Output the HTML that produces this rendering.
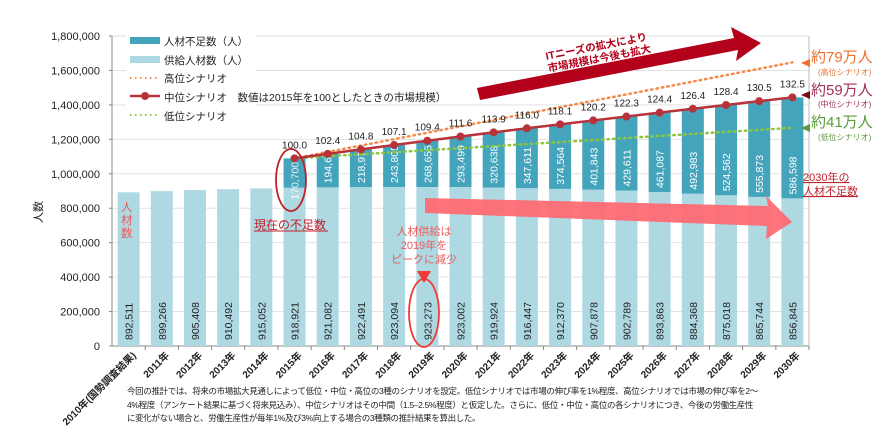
<!DOCTYPE html>
<html><head><meta charset="utf-8">
<style>
body{margin:0;background:#fff;font-family:"Liberation Sans","Noto Sans CJK JP",sans-serif;}
svg{display:block}
.note{position:absolute;left:127px;top:385px;font-size:8.5px;line-height:13.5px;color:#222;width:700px;letter-spacing:-0.35px;white-space:nowrap}
</style></head><body>
<div style="position:relative;width:891px;height:448px;overflow:hidden">
<svg id="c" width="891" height="448"></svg>
<div class="note">今回の推計では、将来の市場拡大見通しによって低位・中位・高位の3種のシナリオを設定。低位シナリオでは市場の伸び率を1%程度、高位シナリオでは市場の伸び率を2～<br>4%程度（アンケート結果に基づく将来見込み）、中位シナリオはその中間（1.5–2.5%程度）と仮定した。さらに、低位・中位・高位の各シナリオにつき、今後の労働生産性<br>に変化がない場合と、労働生産性が毎年1%及び3%向上する場合の3種類の推計結果を算出した。</div>
</div>
<script>
const categories=["2010年(国勢調査結果)","2011年","2012年","2013年","2014年","2015年","2016年","2017年","2018年","2019年","2020年","2021年","2022年","2023年","2024年","2025年","2026年","2027年","2028年","2029年","2030年"];
const supply=[892511,899266,905408,910492,915052,918921,921082,922491,923094,923273,923002,919924,916447,912370,907878,902789,893863,884368,875018,865744,856845];
const shortage=[null,null,null,null,null,170700,194608,218976,243805,268655,293499,320638,347611,374564,401843,429611,461087,492983,524562,555873,586598];
const marketIndex=[null,null,null,null,null,"100.0","102.4","104.8","107.1","109.4","111.6","113.9","116.0","118.1","120.2","122.3","124.4","126.4","128.4","130.5","132.5"];
const highEnd=790000, midEnd=590000, lowEnd=410000;
const yTicks=[0,200000,400000,600000,800000,1000000,1200000,1400000,1600000,1800000];

const NS="http://www.w3.org/2000/svg";
const svg=document.getElementById('c');
const X0=112,X1=809,Y0=346,Y1=36,YMAX=1800000;
const step=(X1-X0)/categories.length, bw=22;
const y=v=>Y0-(v/YMAX)*(Y0-Y1);
const xc=i=>X0+step*(i+0.5);
function el(t,a,p){const e=document.createElementNS(NS,t);for(const k in a)e.setAttribute(k,a[k]);(p||svg).appendChild(e);return e;}
function txt(s,a,p){const e=el('text',a,p);e.textContent=s;return e;}

yTicks.forEach(v=>{
  const g=el('line',{x1:X0,x2:X1,y1:y(v),y2:y(v),stroke:v?'#e2e2e2':'#888','stroke-width':1});
  
  
  const t=txt(v.toLocaleString('en-US'),{x:X0-12,y:y(v)+4,'text-anchor':'end','font-size':11,fill:'#222'});
  
  
  el('line',{x1:X0-3,x2:X0,y1:y(v),y2:y(v),stroke:'#888'});
});
el('line',{x1:X0,x2:X0,y1:Y1,y2:Y0,stroke:'#888'});
el('line',{x1:X1,x2:X1,y1:Y1,y2:Y0,stroke:'#bbb'});
const yt=txt('人数',{x:0,y:0,'font-size':11,fill:'#222',transform:'translate(42,212) rotate(-90)','text-anchor':'middle'});



categories.forEach((c,i)=>{
  const cx=xc(i);
  const b=el('rect',{x:cx-bw/2,y:y(supply[i]),width:bw,height:Y0-y(supply[i]),fill:'#aed9e2'});
  
  
  const vl=txt(supply[i].toLocaleString('en-US'),{x:0,y:0,'font-size':10.5,fill:'#222',transform:`translate(${cx+4},${Y0-6}) rotate(-90)`});
  
  
  if(shortage[i]!=null){
    const top=supply[i]+shortage[i];
    const s=el('rect',{x:cx-bw/2,y:y(top),width:bw,height:y(supply[i])-y(top),fill:'#43a4bc'});
    
    
    const sl=txt(shortage[i].toLocaleString('en-US'),{x:0,y:0,'font-size':10.5,fill:'#fff',transform:`translate(${cx+4},${y(supply[i])+(i==5?12:-4)}) rotate(-90)`,opacity:i==5?0.85:1});
    
    
  }
  el('line',{x1:X0+step*(i+1),x2:X0+step*(i+1),y1:Y0,y2:Y0+4,stroke:'#888'});
  const xl=txt(c,{x:0,y:0,'font-size':10,'font-weight':'bold',fill:'#222','text-anchor':'end',transform:`translate(${cx+8},${Y0+10}) rotate(-45)`});
  
  
});

const i0=5,iN=20, base=supply[i0]+shortage[i0];
function scen(endVal,color,name){
  const l=el('line',{x1:xc(i0),y1:y(base),x2:xc(iN),y2:y(supply[iN]+endVal),stroke:color,'stroke-width':2.5,'stroke-dasharray':'1.5 4','stroke-linecap':'round'});
  
  
}
scen(highEnd,'#f58a4b','high-scenario-line');
scen(lowEnd,'#8cc63f','low-scenario-line');
let pts=[];
for(let i=i0;i<=iN;i++)pts.push(xc(i)+','+y(supply[i]+shortage[i]));
const ml=el('polyline',{points:pts.join(' '),fill:'none',stroke:'#b8323a','stroke-width':2.5});


for(let i=i0;i<=iN;i++){
  const p=el('circle',{cx:xc(i),cy:y(supply[i]+shortage[i]),r:4,fill:'#b8323a'});
  
  
  const t=txt(marketIndex[i],{x:xc(i),y:y(supply[i]+shortage[i])-10,'text-anchor':'middle','font-size':10,fill:'#222'});
  
  
}

const lg=el('g',{});


el('rect',{x:126,y:33,width:130,height:88,fill:'#fff'},lg);
el('rect',{x:130,y:37,width:30,height:7,fill:'#43a4bc'},lg);
el('rect',{x:130,y:56,width:30,height:7,fill:'#aed9e2'},lg);
el('line',{x1:130,x2:160,y1:78,y2:78,stroke:'#f58a4b','stroke-width':2,'stroke-dasharray':'1.5 3.5'},lg);
el('line',{x1:130,x2:160,y1:96,y2:96,stroke:'#b8323a','stroke-width':2.5},lg);
el('circle',{cx:145,cy:96,r:4,fill:'#b8323a'},lg);
el('line',{x1:130,x2:160,y1:115,y2:115,stroke:'#8cc63f','stroke-width':2,'stroke-dasharray':'1.5 3.5'},lg);
[['人材不足数（人）',45],['供給人材数（人）',64],['高位シナリオ',82],['中位シナリオ　数値は2015年を100としたときの市場規模）',101],['低位シナリオ',120]].forEach(a=>{
  const t=txt(a[0],{x:164,y:a[1],'font-size':10.5,fill:'#222'},lg);
  
  
});

const an=el('g',{});


el('polygon',{points:'477,88 734,38 731,27 761,43 736,61 738,50 480,100',fill:'#b3001b'},an);
txt('ITニーズの拡大により',{x:0,y:0,'font-size':10.5,'font-weight':'bold',fill:'#b3001b','text-anchor':'middle',transform:'translate(597,50) rotate(-11)'},an);
txt('市場規模は今後も拡大',{x:0,y:0,'font-size':10.5,'font-weight':'bold',fill:'#b3001b','text-anchor':'middle',transform:'translate(600,62) rotate(-11)'},an);
el('polygon',{points:'425,198 768,206 766,196 792,222 766,239 767,226 425,213',fill:'#ff6b73',opacity:0.95},an);
el('ellipse',{cx:291,cy:180,rx:15,ry:31,fill:'none',stroke:'#c0202a','stroke-width':1.8},an);
el('ellipse',{cx:424,cy:313,rx:15,ry:34,fill:'none',stroke:'#f03a3a','stroke-width':1.8},an);
el('polygon',{points:'417,271 431,271 424,283',fill:'#f03a3a'},an);
[['人材供給は',235],['2019年を',249],['ピークに減少',263]].forEach(a=>txt(a[0],{x:424,y:a[1],'text-anchor':'middle','font-size':11,fill:'#f05a5a'},an));
txt('現在の不足数',{x:254,y:229,'font-size':12,fill:'#c0202a'},an);
el('line',{x1:254,x2:328,y1:231,y2:231,stroke:'#c0202a'},an);
[['人',211],['材',224],['数',237]].forEach(a=>txt(a[0],{x:121,y:a[1],'font-size':11.5,fill:'#f05a5a'},an));
el('polygon',{points:'801,63 810,59 810,67',fill:'#f07030'},an);
txt('約79万人',{x:811,y:62,'font-size':15,fill:'#f07030'},an);
txt('(高位シナリオ)',{x:818,y:75,'font-size':8,fill:'#f07030'},an);
el('polygon',{points:'801,95 810,91 810,99',fill:'#7a0a1a'},an);
txt('約59万人',{x:811,y:95,'font-size':15,fill:'#a0305a'},an);
txt('(中位シナリオ)',{x:818,y:107,'font-size':8,fill:'#a0305a'},an);
el('polygon',{points:'801,128 810,124 810,132',fill:'#5a9a3a'},an);
txt('約41万人',{x:811,y:127,'font-size':15,fill:'#5a9a3a'},an);
txt('(低位シナリオ)',{x:818,y:140,'font-size':8,fill:'#5a9a3a'},an);
txt('2030年の',{x:803,y:181,'font-size':11,fill:'#c0202a','text-decoration':'underline'},an);
txt('人材不足数',{x:803,y:195,'font-size':11,fill:'#c0202a','text-decoration':'underline'},an);
</script>
</body></html>
